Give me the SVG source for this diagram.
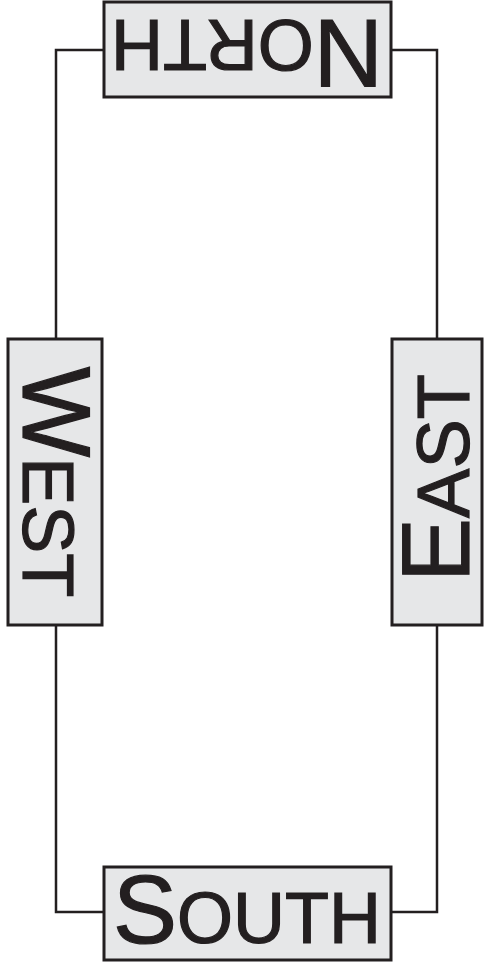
<svg xmlns="http://www.w3.org/2000/svg" width="485" height="968" viewBox="0 0 485 968">
<style>
.box{fill:#e6e7e8;stroke:#231f20;stroke-width:3}
.wire{fill:none;stroke:#231f20;stroke-width:2.5}
text{font-family:"Liberation Sans",Arial,sans-serif;fill:#231f20;stroke:#231f20;stroke-width:1.2;text-anchor:middle}
.big{font-size:96px}
.sm{font-size:72px}
</style>
<rect width="485" height="968" fill="#ffffff"/>
<g id="connectors">
<path class="wire" d="M104,50 H56 V339"/>
<path class="wire" d="M56,625 V912 H104"/>
<path class="wire" d="M391,912 H437 V625"/>
<path class="wire" d="M437,339 V50 H391"/>
</g>
<g id="north">
<rect class="box" x="104" y="2" width="287" height="95"/>
<text transform="translate(247,20) rotate(180)"><tspan class="big">N</tspan><tspan class="sm">ORTH</tspan></text>
</g>
<g id="south">
<rect class="box" x="104" y="867" width="287" height="93"/>
<text x="247" y="943"><tspan class="big">S</tspan><tspan class="sm">OUTH</tspan></text>
</g>
<g id="west">
<rect class="box" x="8" y="339" width="94" height="286"/>
<text transform="translate(23,482) rotate(90)"><tspan class="big">W</tspan><tspan class="sm">EST</tspan></text>
</g>
<g id="east">
<rect class="box" x="392" y="339" width="90" height="286"/>
<text transform="translate(469,478) rotate(-90)"><tspan class="big">E</tspan><tspan class="sm" style="font-size:74px">AST</tspan></text>
</g>
</svg>
